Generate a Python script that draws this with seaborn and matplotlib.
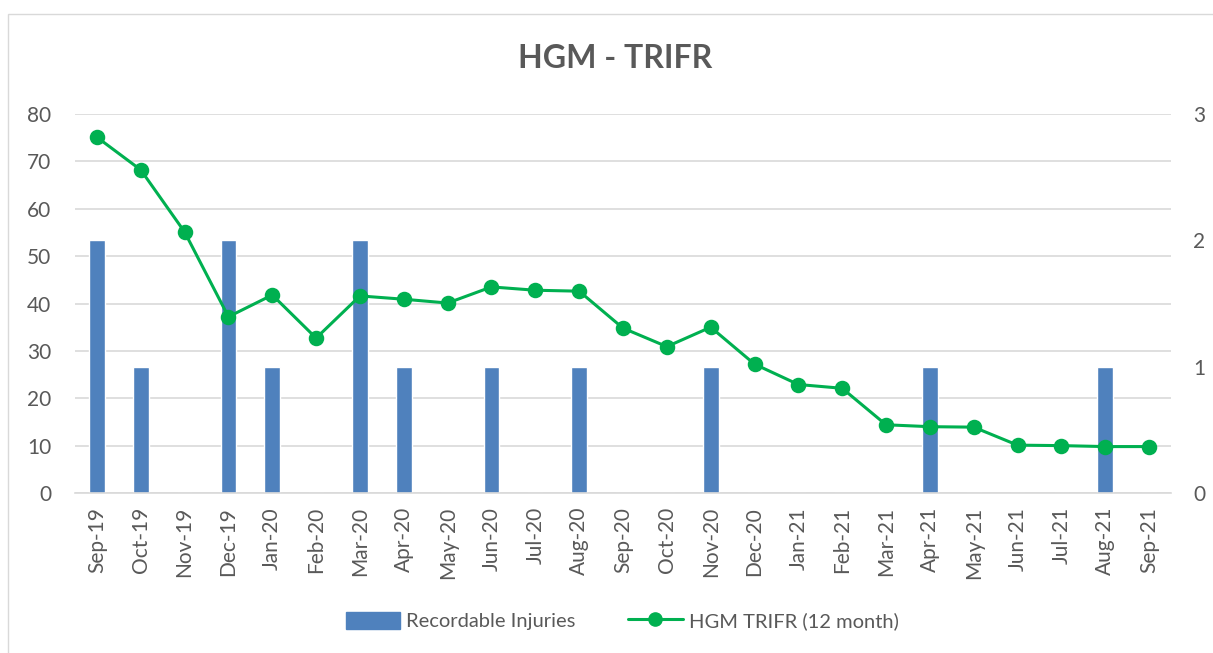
import matplotlib
matplotlib.use("Agg")
import matplotlib.pyplot as plt
import matplotlib.patches as mpatches
import matplotlib.lines as mlines
import numpy as np
import pandas as pd
import seaborn as sns

sns.set_theme(style="white")
plt.rcParams['font.family'] = ['Lato', 'DejaVu Sans']

months = ['Sep-19', 'Oct-19', 'Nov-19', 'Dec-19', 'Jan-20', 'Feb-20', 'Mar-20', 'Apr-20',
          'May-20', 'Jun-20', 'Jul-20', 'Aug-20', 'Sep-20', 'Oct-20', 'Nov-20', 'Dec-20',
          'Jan-21', 'Feb-21', 'Mar-21', 'Apr-21', 'May-21', 'Jun-21', 'Jul-21', 'Aug-21', 'Sep-21']
injuries = [2, 1, 0, 2, 1, 0, 2, 1, 0, 1, 0, 1, 0, 0, 1, 0, 0, 0, 0, 1, 0, 0, 0, 1, 0]
trifr = [75.1, 68.2, 55.1, 37.2, 41.8, 32.7, 41.6, 40.9, 40.1, 43.5, 42.8, 42.6, 34.8,
         30.9, 35.0, 27.2, 22.9, 22.1, 14.4, 14.0, 13.9, 10.1, 10.0, 9.8, 9.8]

df = pd.DataFrame({'month': months, 'injuries': injuries, 'trifr': trifr})

grey = '#595959'
bar_col = '#4f81bd'
line_col = '#00b050'

fig = plt.figure(figsize=(12.13, 6.53), dpi=100)
fig.patches.append(mpatches.Rectangle((8 / 1213, -0.01), 1.2, 1 - 14 / 653 + 0.01,
                                      transform=fig.transFigure, fill=False,
                                      edgecolor='#d9d9d9', linewidth=1))
ax = fig.add_axes([75 / 1213, 1 - 493 / 653, (1171 - 75) / 1213, (493 - 114) / 653])

# bars on the primary axis (right-hand scale), line on twin (left-hand scale)
sns.barplot(data=df, x='month', y='injuries', ax=ax, color=bar_col, width=0.36,
            saturation=1, zorder=2)
ax.set_ylim(0, 3)
ax.set_yticks([0, 1, 2, 3])
ax.set_yticks(np.linspace(0, 3, 9), minor=True)
ax.yaxis.remove_overlapping_locs = False
ax.grid(False)
ax.grid(which='minor', axis='y', color='#d9d9d9', linewidth=1.2, zorder=0)
ax.set_axisbelow(True)
ax.tick_params(axis='x', length=0, labelsize=15, labelcolor=grey, rotation=90, pad=10)
ax.set_xlabel('')
ax.set_ylabel('')
for s in ['top', 'left', 'right']:
    ax.spines[s].set_visible(False)
ax.spines['bottom'].set_color('#d9d9d9')
ax.spines['bottom'].set_linewidth(1.2)

ax2 = ax.twinx()
sns.pointplot(data=df, x='month', y='trifr', ax=ax2, color=line_col, markers='o',
              linestyles='-', markersize=9.5, linewidth=2.2)
ax2.set_ylim(0, 80)
ax2.set_yticks(range(0, 81, 10))
ax2.set_ylabel('')
ax2.set_xlabel('')
for s in ax2.spines.values():
    s.set_visible(False)
ax2.set_xlim(-0.5, len(months) - 0.5)

# twinx moved ticks around; put them where the reference has them
ax.yaxis.tick_right()
ax2.yaxis.tick_left()
ax.tick_params(axis='y', which='both', length=0, labelsize=15, labelcolor=grey, pad=16)
ax2.tick_params(axis='y', length=0, labelsize=15, labelcolor=grey, pad=17)

fig.text(0.507, 1 - 58 / 653, 'HGM - TRIFR', ha='center', va='center',
         fontsize=23, fontweight='bold', color=grey)

h1 = mpatches.Patch(color=bar_col, label='Recordable Injuries')
h2 = mlines.Line2D([], [], color=line_col, marker='o', markersize=9.5, linewidth=2.2,
                   label='HGM TRIFR (12 month)')
fig.legend(handles=[h1, h2], loc='center', bbox_to_anchor=(0.513, 1 - 621 / 653),
           ncol=2, frameon=False, fontsize=14.5, labelcolor=grey,
           handlelength=2.7, handleheight=0.9, columnspacing=2.6, handletextpad=0.3)

fig.savefig('out.png', dpi=100)
